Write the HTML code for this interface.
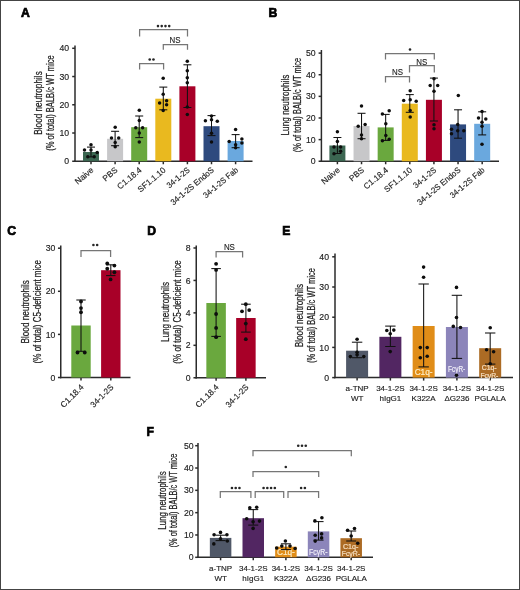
<!DOCTYPE html>
<html><head><meta charset="utf-8"><title>Figure</title>
<style>
html,body{margin:0;padding:0;background:#fff;}
body{width:520px;height:590px;overflow:hidden;}
svg{display:block;font-family:"Liberation Sans", sans-serif;will-change:transform;}
</style></head>
<body>
<svg width="520" height="590" viewBox="0 0 520 590">
<rect x="0" y="0" width="520" height="590" fill="#fff"/>
<text x="21" y="16.8" font-size="12.2" text-anchor="start" fill="#000" font-weight="bold" stroke="#000" stroke-width="0.7">A</text>
<line x1="75" y1="45.5" x2="75" y2="162" stroke="#2b2b2b" stroke-width="1.5" stroke-linecap="butt"/>
<line x1="72.2" y1="161.25" x2="75" y2="161.25" stroke="#2b2b2b" stroke-width="1.5" stroke-linecap="butt"/>
<text x="69.2" y="164.38" font-size="8.7" text-anchor="end" fill="#222222" font-weight="normal" stroke="#222222" stroke-width="0.15">0</text>
<line x1="72.2" y1="133.01" x2="75" y2="133.01" stroke="#2b2b2b" stroke-width="1.5" stroke-linecap="butt"/>
<text x="69.2" y="136.14" font-size="8.7" text-anchor="end" fill="#222222" font-weight="normal" stroke="#222222" stroke-width="0.15">10</text>
<line x1="72.2" y1="104.77" x2="75" y2="104.77" stroke="#2b2b2b" stroke-width="1.5" stroke-linecap="butt"/>
<text x="69.2" y="107.9" font-size="8.7" text-anchor="end" fill="#222222" font-weight="normal" stroke="#222222" stroke-width="0.15">20</text>
<line x1="72.2" y1="76.53" x2="75" y2="76.53" stroke="#2b2b2b" stroke-width="1.5" stroke-linecap="butt"/>
<text x="69.2" y="79.66" font-size="8.7" text-anchor="end" fill="#222222" font-weight="normal" stroke="#222222" stroke-width="0.15">30</text>
<line x1="72.2" y1="48.29" x2="75" y2="48.29" stroke="#2b2b2b" stroke-width="1.5" stroke-linecap="butt"/>
<text x="69.2" y="51.42" font-size="8.7" text-anchor="end" fill="#222222" font-weight="normal" stroke="#222222" stroke-width="0.15">40</text>
<g transform="translate(41.8,103) rotate(-90)"><text x="0" y="0" font-size="10.8" text-anchor="middle" fill="#222222" stroke="#222222" stroke-width="0.24" textLength="63.5" lengthAdjust="spacingAndGlyphs">Blood neutrophils</text></g>
<g transform="translate(53.9,103) rotate(-90)"><text x="0" y="0" font-size="10.8" text-anchor="middle" fill="#222222" stroke="#222222" stroke-width="0.24" textLength="95.5" lengthAdjust="spacingAndGlyphs">(% of total) BALB/c WT mice</text></g>
<line x1="74.25" y1="161.25" x2="252.5" y2="161.25" stroke="#2b2b2b" stroke-width="1.5" stroke-linecap="butt"/>
<line x1="91" y1="161.25" x2="91" y2="164.25" stroke="#2b2b2b" stroke-width="1.5" stroke-linecap="butt"/>
<line x1="115.1" y1="161.25" x2="115.1" y2="164.25" stroke="#2b2b2b" stroke-width="1.5" stroke-linecap="butt"/>
<line x1="139.2" y1="161.25" x2="139.2" y2="164.25" stroke="#2b2b2b" stroke-width="1.5" stroke-linecap="butt"/>
<line x1="163.3" y1="161.25" x2="163.3" y2="164.25" stroke="#2b2b2b" stroke-width="1.5" stroke-linecap="butt"/>
<line x1="187.4" y1="161.25" x2="187.4" y2="164.25" stroke="#2b2b2b" stroke-width="1.5" stroke-linecap="butt"/>
<line x1="211.5" y1="161.25" x2="211.5" y2="164.25" stroke="#2b2b2b" stroke-width="1.5" stroke-linecap="butt"/>
<line x1="235.6" y1="161.25" x2="235.6" y2="164.25" stroke="#2b2b2b" stroke-width="1.5" stroke-linecap="butt"/>
<rect x="83" y="152" width="16" height="9.25" fill="#3b6651"/>
<rect x="107.1" y="138.8" width="16" height="22.45" fill="#c7c7c9"/>
<rect x="131.2" y="127.2" width="16" height="34.05" fill="#6aa83e"/>
<rect x="155.3" y="98.7" width="16" height="62.55" fill="#e9b91f"/>
<rect x="179.4" y="86.3" width="16" height="74.95" fill="#a80028"/>
<rect x="203.5" y="126.2" width="16" height="35.05" fill="#2e4a7e"/>
<rect x="227.6" y="141" width="16" height="20.25" fill="#6aa8de"/>
<line x1="91" y1="147.1" x2="91" y2="156.9" stroke="#111111" stroke-width="1.05" stroke-linecap="butt"/>
<line x1="87" y1="147.1" x2="95" y2="147.1" stroke="#111111" stroke-width="1.05" stroke-linecap="butt"/>
<line x1="87" y1="156.9" x2="95" y2="156.9" stroke="#111111" stroke-width="1.05" stroke-linecap="butt"/>
<circle cx="84.5" cy="150" r="1.75" fill="#0d0d0d"/>
<circle cx="91" cy="144.8" r="1.75" fill="#0d0d0d"/>
<circle cx="91" cy="149.9" r="1.75" fill="#0d0d0d"/>
<circle cx="97.2" cy="152.5" r="1.75" fill="#0d0d0d"/>
<circle cx="87.8" cy="156.8" r="1.75" fill="#0d0d0d"/>
<circle cx="94.2" cy="156.8" r="1.75" fill="#0d0d0d"/>
<line x1="115.1" y1="131.3" x2="115.1" y2="145.7" stroke="#111111" stroke-width="1.05" stroke-linecap="butt"/>
<line x1="111.1" y1="131.3" x2="119.1" y2="131.3" stroke="#111111" stroke-width="1.05" stroke-linecap="butt"/>
<line x1="111.1" y1="145.7" x2="119.1" y2="145.7" stroke="#111111" stroke-width="1.05" stroke-linecap="butt"/>
<circle cx="115.2" cy="127.2" r="1.75" fill="#0d0d0d"/>
<circle cx="111.5" cy="138" r="1.75" fill="#0d0d0d"/>
<circle cx="118.7" cy="138" r="1.75" fill="#0d0d0d"/>
<circle cx="115.2" cy="142.4" r="1.75" fill="#0d0d0d"/>
<circle cx="115.2" cy="146.7" r="1.75" fill="#0d0d0d"/>
<line x1="139.2" y1="116" x2="139.2" y2="137.6" stroke="#111111" stroke-width="1.05" stroke-linecap="butt"/>
<line x1="135.2" y1="116" x2="143.2" y2="116" stroke="#111111" stroke-width="1.05" stroke-linecap="butt"/>
<line x1="135.2" y1="137.6" x2="143.2" y2="137.6" stroke="#111111" stroke-width="1.05" stroke-linecap="butt"/>
<circle cx="139.3" cy="110.2" r="1.75" fill="#0d0d0d"/>
<circle cx="139.3" cy="120.6" r="1.75" fill="#0d0d0d"/>
<circle cx="135.8" cy="127.8" r="1.75" fill="#0d0d0d"/>
<circle cx="142.6" cy="127.8" r="1.75" fill="#0d0d0d"/>
<circle cx="139.3" cy="133" r="1.75" fill="#0d0d0d"/>
<circle cx="139.3" cy="142" r="1.75" fill="#0d0d0d"/>
<line x1="163.3" y1="87.1" x2="163.3" y2="109.8" stroke="#111111" stroke-width="1.05" stroke-linecap="butt"/>
<line x1="159.3" y1="87.1" x2="167.3" y2="87.1" stroke="#111111" stroke-width="1.05" stroke-linecap="butt"/>
<line x1="159.3" y1="109.8" x2="167.3" y2="109.8" stroke="#111111" stroke-width="1.05" stroke-linecap="butt"/>
<circle cx="163.2" cy="78.3" r="1.75" fill="#0d0d0d"/>
<circle cx="163.2" cy="94.2" r="1.75" fill="#0d0d0d"/>
<circle cx="159.6" cy="103" r="1.75" fill="#0d0d0d"/>
<circle cx="166.6" cy="100.7" r="1.75" fill="#0d0d0d"/>
<circle cx="166.6" cy="104.7" r="1.75" fill="#0d0d0d"/>
<circle cx="163.2" cy="110.5" r="1.75" fill="#0d0d0d"/>
<line x1="187.4" y1="64.8" x2="187.4" y2="107.5" stroke="#111111" stroke-width="1.05" stroke-linecap="butt"/>
<line x1="183.4" y1="64.8" x2="191.4" y2="64.8" stroke="#111111" stroke-width="1.05" stroke-linecap="butt"/>
<line x1="183.4" y1="107.5" x2="191.4" y2="107.5" stroke="#111111" stroke-width="1.05" stroke-linecap="butt"/>
<circle cx="187.3" cy="61.2" r="1.75" fill="#0d0d0d"/>
<circle cx="187.3" cy="70.8" r="1.75" fill="#0d0d0d"/>
<circle cx="187.3" cy="77.7" r="1.75" fill="#0d0d0d"/>
<circle cx="187.3" cy="82.7" r="1.75" fill="#0d0d0d"/>
<circle cx="187.3" cy="106.9" r="1.75" fill="#0d0d0d"/>
<circle cx="187.3" cy="114.5" r="1.75" fill="#0d0d0d"/>
<line x1="211.5" y1="115.6" x2="211.5" y2="135.6" stroke="#111111" stroke-width="1.05" stroke-linecap="butt"/>
<line x1="207.5" y1="115.6" x2="215.5" y2="115.6" stroke="#111111" stroke-width="1.05" stroke-linecap="butt"/>
<line x1="207.5" y1="135.6" x2="215.5" y2="135.6" stroke="#111111" stroke-width="1.05" stroke-linecap="butt"/>
<circle cx="211.5" cy="116" r="1.75" fill="#0d0d0d"/>
<circle cx="205.4" cy="120.8" r="1.75" fill="#0d0d0d"/>
<circle cx="211.5" cy="119.8" r="1.75" fill="#0d0d0d"/>
<circle cx="217.3" cy="121.3" r="1.75" fill="#0d0d0d"/>
<circle cx="211.5" cy="133.3" r="1.75" fill="#0d0d0d"/>
<circle cx="211.5" cy="141.9" r="1.75" fill="#0d0d0d"/>
<line x1="235.6" y1="134.6" x2="235.6" y2="147.7" stroke="#111111" stroke-width="1.05" stroke-linecap="butt"/>
<line x1="231.6" y1="134.6" x2="239.6" y2="134.6" stroke="#111111" stroke-width="1.05" stroke-linecap="butt"/>
<line x1="231.6" y1="147.7" x2="239.6" y2="147.7" stroke="#111111" stroke-width="1.05" stroke-linecap="butt"/>
<circle cx="235.6" cy="129.4" r="1.75" fill="#0d0d0d"/>
<circle cx="229.2" cy="141.5" r="1.75" fill="#0d0d0d"/>
<circle cx="241.9" cy="139" r="1.75" fill="#0d0d0d"/>
<circle cx="241.9" cy="142.9" r="1.75" fill="#0d0d0d"/>
<circle cx="235.6" cy="144.8" r="1.75" fill="#0d0d0d"/>
<circle cx="235.6" cy="147.7" r="1.75" fill="#0d0d0d"/>
<g transform="translate(94.1,171) rotate(-40)"><text x="0" y="0" font-size="8.3" text-anchor="end" fill="#222222" stroke="#222222" stroke-width="0.15">Naive</text></g>
<g transform="translate(118.2,171) rotate(-40)"><text x="0" y="0" font-size="8.3" text-anchor="end" fill="#222222" stroke="#222222" stroke-width="0.15">PBS</text></g>
<g transform="translate(142.3,171) rotate(-40)"><text x="0" y="0" font-size="8.3" text-anchor="end" fill="#222222" stroke="#222222" stroke-width="0.15">C1.18.4</text></g>
<g transform="translate(166.4,171) rotate(-40)"><text x="0" y="0" font-size="8.3" text-anchor="end" fill="#222222" stroke="#222222" stroke-width="0.15">SF1.1.10</text></g>
<g transform="translate(190.5,171) rotate(-40)"><text x="0" y="0" font-size="8.3" text-anchor="end" fill="#222222" stroke="#222222" stroke-width="0.15" textLength="27.3" lengthAdjust="spacingAndGlyphs">34-1-2S</text></g>
<g transform="translate(214.6,171) rotate(-40)"><text x="0" y="0" font-size="8.3" text-anchor="end" fill="#222222" stroke="#222222" stroke-width="0.15" textLength="53.8" lengthAdjust="spacingAndGlyphs">34-1-2S EndoS</text></g>
<g transform="translate(238.7,171) rotate(-40)"><text x="0" y="0" font-size="8.3" text-anchor="end" fill="#222222" stroke="#222222" stroke-width="0.15" textLength="42.6" lengthAdjust="spacingAndGlyphs">34-1-2S Fab</text></g>
<path d="M139.6 36.5V29.5H187.5V36.5" fill="none" stroke="#767676" stroke-width="1.25"/>
<circle cx="157.97" cy="26.1" r="1.3" fill="#262626"/>
<circle cx="161.72" cy="26.1" r="1.3" fill="#262626"/>
<circle cx="165.47" cy="26.1" r="1.3" fill="#262626"/>
<circle cx="169.22" cy="26.1" r="1.3" fill="#262626"/>
<path d="M163.3 49.7V44.5H187.5V49.7" fill="none" stroke="#767676" stroke-width="1.25"/>
<text x="175.1" y="42.8" font-size="8.6" text-anchor="middle" fill="#222" font-weight="normal" textLength="11" lengthAdjust="spacingAndGlyphs" stroke="#222" stroke-width="0.12">NS</text>
<path d="M139.6 69.6V63.5H163.6V69.6" fill="none" stroke="#767676" stroke-width="1.25"/>
<circle cx="149.72" cy="59.5" r="1.3" fill="#262626"/>
<circle cx="153.47" cy="59.5" r="1.3" fill="#262626"/>
<text x="268.6" y="16.8" font-size="12.2" text-anchor="start" fill="#000" font-weight="bold" stroke="#000" stroke-width="0.7">B</text>
<line x1="321.4" y1="50" x2="321.4" y2="162" stroke="#2b2b2b" stroke-width="1.5" stroke-linecap="butt"/>
<line x1="318.6" y1="161.25" x2="321.4" y2="161.25" stroke="#2b2b2b" stroke-width="1.5" stroke-linecap="butt"/>
<text x="315.6" y="164.38" font-size="8.7" text-anchor="end" fill="#222222" font-weight="normal" stroke="#222222" stroke-width="0.15">0</text>
<line x1="318.6" y1="139.62" x2="321.4" y2="139.62" stroke="#2b2b2b" stroke-width="1.5" stroke-linecap="butt"/>
<text x="315.6" y="142.75" font-size="8.7" text-anchor="end" fill="#222222" font-weight="normal" stroke="#222222" stroke-width="0.15">10</text>
<line x1="318.6" y1="117.99" x2="321.4" y2="117.99" stroke="#2b2b2b" stroke-width="1.5" stroke-linecap="butt"/>
<text x="315.6" y="121.12" font-size="8.7" text-anchor="end" fill="#222222" font-weight="normal" stroke="#222222" stroke-width="0.15">20</text>
<line x1="318.6" y1="96.36" x2="321.4" y2="96.36" stroke="#2b2b2b" stroke-width="1.5" stroke-linecap="butt"/>
<text x="315.6" y="99.49" font-size="8.7" text-anchor="end" fill="#222222" font-weight="normal" stroke="#222222" stroke-width="0.15">30</text>
<line x1="318.6" y1="74.73" x2="321.4" y2="74.73" stroke="#2b2b2b" stroke-width="1.5" stroke-linecap="butt"/>
<text x="315.6" y="77.86" font-size="8.7" text-anchor="end" fill="#222222" font-weight="normal" stroke="#222222" stroke-width="0.15">40</text>
<line x1="318.6" y1="53.1" x2="321.4" y2="53.1" stroke="#2b2b2b" stroke-width="1.5" stroke-linecap="butt"/>
<text x="315.6" y="56.23" font-size="8.7" text-anchor="end" fill="#222222" font-weight="normal" stroke="#222222" stroke-width="0.15">50</text>
<g transform="translate(288.6,105) rotate(-90)"><text x="0" y="0" font-size="10.8" text-anchor="middle" fill="#222222" stroke="#222222" stroke-width="0.24" textLength="61" lengthAdjust="spacingAndGlyphs">Lung neutrophils</text></g>
<g transform="translate(300.6,105) rotate(-90)"><text x="0" y="0" font-size="10.8" text-anchor="middle" fill="#222222" stroke="#222222" stroke-width="0.24" textLength="94.5" lengthAdjust="spacingAndGlyphs">(% of total) BALB/c WT mice</text></g>
<line x1="320.65" y1="161.25" x2="499" y2="161.25" stroke="#2b2b2b" stroke-width="1.5" stroke-linecap="butt"/>
<line x1="337.4" y1="161.25" x2="337.4" y2="164.25" stroke="#2b2b2b" stroke-width="1.5" stroke-linecap="butt"/>
<line x1="361.53" y1="161.25" x2="361.53" y2="164.25" stroke="#2b2b2b" stroke-width="1.5" stroke-linecap="butt"/>
<line x1="385.66" y1="161.25" x2="385.66" y2="164.25" stroke="#2b2b2b" stroke-width="1.5" stroke-linecap="butt"/>
<line x1="409.79" y1="161.25" x2="409.79" y2="164.25" stroke="#2b2b2b" stroke-width="1.5" stroke-linecap="butt"/>
<line x1="433.92" y1="161.25" x2="433.92" y2="164.25" stroke="#2b2b2b" stroke-width="1.5" stroke-linecap="butt"/>
<line x1="458.05" y1="161.25" x2="458.05" y2="164.25" stroke="#2b2b2b" stroke-width="1.5" stroke-linecap="butt"/>
<line x1="482.18" y1="161.25" x2="482.18" y2="164.25" stroke="#2b2b2b" stroke-width="1.5" stroke-linecap="butt"/>
<rect x="329.4" y="145.5" width="16" height="15.75" fill="#3b6651"/>
<rect x="353.53" y="126" width="16" height="35.25" fill="#c7c7c9"/>
<rect x="377.66" y="127.4" width="16" height="33.85" fill="#6aa83e"/>
<rect x="401.79" y="103.7" width="16" height="57.55" fill="#e9b91f"/>
<rect x="425.92" y="99.8" width="16" height="61.45" fill="#a80028"/>
<rect x="450.05" y="124.4" width="16" height="36.85" fill="#2e4a7e"/>
<rect x="474.18" y="123.8" width="16" height="37.45" fill="#6aa8de"/>
<line x1="337.4" y1="137.5" x2="337.4" y2="153.5" stroke="#111111" stroke-width="1.05" stroke-linecap="butt"/>
<line x1="333.4" y1="137.5" x2="341.4" y2="137.5" stroke="#111111" stroke-width="1.05" stroke-linecap="butt"/>
<line x1="333.4" y1="153.5" x2="341.4" y2="153.5" stroke="#111111" stroke-width="1.05" stroke-linecap="butt"/>
<circle cx="337.4" cy="131.7" r="1.75" fill="#0d0d0d"/>
<circle cx="337.4" cy="141.6" r="1.75" fill="#0d0d0d"/>
<circle cx="334" cy="146.9" r="1.75" fill="#0d0d0d"/>
<circle cx="340.6" cy="146.9" r="1.75" fill="#0d0d0d"/>
<circle cx="340.6" cy="151.2" r="1.75" fill="#0d0d0d"/>
<circle cx="334" cy="153.7" r="1.75" fill="#0d0d0d"/>
<line x1="361.53" y1="113.3" x2="361.53" y2="138.7" stroke="#111111" stroke-width="1.05" stroke-linecap="butt"/>
<line x1="357.53" y1="113.3" x2="365.53" y2="113.3" stroke="#111111" stroke-width="1.05" stroke-linecap="butt"/>
<line x1="357.53" y1="138.7" x2="365.53" y2="138.7" stroke="#111111" stroke-width="1.05" stroke-linecap="butt"/>
<circle cx="361.5" cy="106" r="1.75" fill="#0d0d0d"/>
<circle cx="358.2" cy="126.3" r="1.75" fill="#0d0d0d"/>
<circle cx="365.1" cy="124.5" r="1.75" fill="#0d0d0d"/>
<circle cx="361.5" cy="134.9" r="1.75" fill="#0d0d0d"/>
<circle cx="361.5" cy="138.7" r="1.75" fill="#0d0d0d"/>
<line x1="385.66" y1="114.4" x2="385.66" y2="140.4" stroke="#111111" stroke-width="1.05" stroke-linecap="butt"/>
<line x1="381.66" y1="114.4" x2="389.66" y2="114.4" stroke="#111111" stroke-width="1.05" stroke-linecap="butt"/>
<line x1="381.66" y1="140.4" x2="389.66" y2="140.4" stroke="#111111" stroke-width="1.05" stroke-linecap="butt"/>
<circle cx="382.4" cy="114.1" r="1.75" fill="#0d0d0d"/>
<circle cx="389.2" cy="110.8" r="1.75" fill="#0d0d0d"/>
<circle cx="385.8" cy="123.8" r="1.75" fill="#0d0d0d"/>
<circle cx="385.8" cy="135.4" r="1.75" fill="#0d0d0d"/>
<circle cx="382.4" cy="140.7" r="1.75" fill="#0d0d0d"/>
<circle cx="389.2" cy="139.2" r="1.75" fill="#0d0d0d"/>
<line x1="409.79" y1="94.6" x2="409.79" y2="112.3" stroke="#111111" stroke-width="1.05" stroke-linecap="butt"/>
<line x1="405.79" y1="94.6" x2="413.79" y2="94.6" stroke="#111111" stroke-width="1.05" stroke-linecap="butt"/>
<line x1="405.79" y1="112.3" x2="413.79" y2="112.3" stroke="#111111" stroke-width="1.05" stroke-linecap="butt"/>
<circle cx="410.2" cy="90.8" r="1.75" fill="#0d0d0d"/>
<circle cx="403.7" cy="100.4" r="1.75" fill="#0d0d0d"/>
<circle cx="410.2" cy="99.8" r="1.75" fill="#0d0d0d"/>
<circle cx="416.2" cy="101.3" r="1.75" fill="#0d0d0d"/>
<circle cx="410.2" cy="110.4" r="1.75" fill="#0d0d0d"/>
<circle cx="410.2" cy="117.1" r="1.75" fill="#0d0d0d"/>
<line x1="433.92" y1="78.1" x2="433.92" y2="121" stroke="#111111" stroke-width="1.05" stroke-linecap="butt"/>
<line x1="429.92" y1="78.1" x2="437.92" y2="78.1" stroke="#111111" stroke-width="1.05" stroke-linecap="butt"/>
<line x1="429.92" y1="121" x2="437.92" y2="121" stroke="#111111" stroke-width="1.05" stroke-linecap="butt"/>
<circle cx="434" cy="78.7" r="1.75" fill="#0d0d0d"/>
<circle cx="430.2" cy="85.4" r="1.75" fill="#0d0d0d"/>
<circle cx="437.7" cy="85.4" r="1.75" fill="#0d0d0d"/>
<circle cx="434" cy="91.2" r="1.75" fill="#0d0d0d"/>
<circle cx="434" cy="124.8" r="1.75" fill="#0d0d0d"/>
<circle cx="434" cy="128.7" r="1.75" fill="#0d0d0d"/>
<line x1="458.05" y1="109.8" x2="458.05" y2="138.2" stroke="#111111" stroke-width="1.05" stroke-linecap="butt"/>
<line x1="454.05" y1="109.8" x2="462.05" y2="109.8" stroke="#111111" stroke-width="1.05" stroke-linecap="butt"/>
<line x1="454.05" y1="138.2" x2="462.05" y2="138.2" stroke="#111111" stroke-width="1.05" stroke-linecap="butt"/>
<circle cx="458.3" cy="95.4" r="1.75" fill="#0d0d0d"/>
<circle cx="457.7" cy="124.6" r="1.75" fill="#0d0d0d"/>
<circle cx="451.5" cy="129.2" r="1.75" fill="#0d0d0d"/>
<circle cx="463.8" cy="130.8" r="1.75" fill="#0d0d0d"/>
<circle cx="457.7" cy="130.8" r="1.75" fill="#0d0d0d"/>
<circle cx="451.5" cy="133.8" r="1.75" fill="#0d0d0d"/>
<line x1="482.18" y1="111.8" x2="482.18" y2="134.9" stroke="#111111" stroke-width="1.05" stroke-linecap="butt"/>
<line x1="478.18" y1="111.8" x2="486.18" y2="111.8" stroke="#111111" stroke-width="1.05" stroke-linecap="butt"/>
<line x1="478.18" y1="134.9" x2="486.18" y2="134.9" stroke="#111111" stroke-width="1.05" stroke-linecap="butt"/>
<circle cx="482" cy="111.6" r="1.75" fill="#0d0d0d"/>
<circle cx="478.5" cy="118" r="1.75" fill="#0d0d0d"/>
<circle cx="485.8" cy="118.9" r="1.75" fill="#0d0d0d"/>
<circle cx="482" cy="122.3" r="1.75" fill="#0d0d0d"/>
<circle cx="482" cy="126.2" r="1.75" fill="#0d0d0d"/>
<circle cx="482" cy="144.2" r="1.75" fill="#0d0d0d"/>
<g transform="translate(340.5,171) rotate(-40)"><text x="0" y="0" font-size="8.3" text-anchor="end" fill="#222222" stroke="#222222" stroke-width="0.15">Naive</text></g>
<g transform="translate(364.63,171) rotate(-40)"><text x="0" y="0" font-size="8.3" text-anchor="end" fill="#222222" stroke="#222222" stroke-width="0.15">PBS</text></g>
<g transform="translate(388.76,171) rotate(-40)"><text x="0" y="0" font-size="8.3" text-anchor="end" fill="#222222" stroke="#222222" stroke-width="0.15">C1.18.4</text></g>
<g transform="translate(412.89,171) rotate(-40)"><text x="0" y="0" font-size="8.3" text-anchor="end" fill="#222222" stroke="#222222" stroke-width="0.15">SF1.1.10</text></g>
<g transform="translate(437.02,171) rotate(-40)"><text x="0" y="0" font-size="8.3" text-anchor="end" fill="#222222" stroke="#222222" stroke-width="0.15" textLength="27.3" lengthAdjust="spacingAndGlyphs">34-1-2S</text></g>
<g transform="translate(461.15,171) rotate(-40)"><text x="0" y="0" font-size="8.3" text-anchor="end" fill="#222222" stroke="#222222" stroke-width="0.15" textLength="53.8" lengthAdjust="spacingAndGlyphs">34-1-2S EndoS</text></g>
<g transform="translate(485.28,171) rotate(-40)"><text x="0" y="0" font-size="8.3" text-anchor="end" fill="#222222" stroke="#222222" stroke-width="0.15" textLength="42.6" lengthAdjust="spacingAndGlyphs">34-1-2S Fab</text></g>
<path d="M385.5 59.5V53.5H434.3V59.5" fill="none" stroke="#767676" stroke-width="1.25"/>
<circle cx="410" cy="49.5" r="1.3" fill="#262626"/>
<path d="M409.5 72.5V65.5H434.3V72.5" fill="none" stroke="#767676" stroke-width="1.25"/>
<text x="421.8" y="65" font-size="8.6" text-anchor="middle" fill="#222" font-weight="normal" textLength="11" lengthAdjust="spacingAndGlyphs" stroke="#222" stroke-width="0.12">NS</text>
<path d="M385.5 82.5V76.5H409.5V82.5" fill="none" stroke="#767676" stroke-width="1.25"/>
<text x="397.5" y="74.5" font-size="8.6" text-anchor="middle" fill="#222" font-weight="normal" textLength="11" lengthAdjust="spacingAndGlyphs" stroke="#222" stroke-width="0.12">NS</text>
<text x="7.2" y="235.4" font-size="12.2" text-anchor="start" fill="#000" font-weight="bold" stroke="#000" stroke-width="0.7">C</text>
<line x1="60.75" y1="245.5" x2="60.75" y2="378.25" stroke="#2b2b2b" stroke-width="1.5" stroke-linecap="butt"/>
<line x1="57.95" y1="377.5" x2="60.75" y2="377.5" stroke="#2b2b2b" stroke-width="1.5" stroke-linecap="butt"/>
<text x="55.4" y="380.63" font-size="8.7" text-anchor="end" fill="#222222" font-weight="normal" stroke="#222222" stroke-width="0.15">0</text>
<line x1="57.95" y1="334.4" x2="60.75" y2="334.4" stroke="#2b2b2b" stroke-width="1.5" stroke-linecap="butt"/>
<text x="55.4" y="337.53" font-size="8.7" text-anchor="end" fill="#222222" font-weight="normal" stroke="#222222" stroke-width="0.15">10</text>
<line x1="57.95" y1="291.3" x2="60.75" y2="291.3" stroke="#2b2b2b" stroke-width="1.5" stroke-linecap="butt"/>
<text x="55.4" y="294.43" font-size="8.7" text-anchor="end" fill="#222222" font-weight="normal" stroke="#222222" stroke-width="0.15">20</text>
<line x1="57.95" y1="248.2" x2="60.75" y2="248.2" stroke="#2b2b2b" stroke-width="1.5" stroke-linecap="butt"/>
<text x="55.4" y="251.33" font-size="8.7" text-anchor="end" fill="#222222" font-weight="normal" stroke="#222222" stroke-width="0.15">30</text>
<g transform="translate(28.6,311.8) rotate(-90)"><text x="0" y="0" font-size="10.8" text-anchor="middle" fill="#222222" stroke="#222222" stroke-width="0.24" textLength="63.4" lengthAdjust="spacingAndGlyphs">Blood neutrophils</text></g>
<g transform="translate(40.8,311.8) rotate(-90)"><text x="0" y="0" font-size="10.8" text-anchor="middle" fill="#222222" stroke="#222222" stroke-width="0.24" textLength="103.3" lengthAdjust="spacingAndGlyphs">(% of total) C5-deficient mice</text></g>
<line x1="60" y1="377.5" x2="130.5" y2="377.5" stroke="#2b2b2b" stroke-width="1.5" stroke-linecap="butt"/>
<line x1="81" y1="377.5" x2="81" y2="380.5" stroke="#2b2b2b" stroke-width="1.5" stroke-linecap="butt"/>
<line x1="110.8" y1="377.5" x2="110.8" y2="380.5" stroke="#2b2b2b" stroke-width="1.5" stroke-linecap="butt"/>
<rect x="71.3" y="325.5" width="19.4" height="52" fill="#6aa83e"/>
<rect x="101.1" y="270.2" width="19.4" height="107.3" fill="#a80028"/>
<line x1="81" y1="300" x2="81" y2="351.3" stroke="#111111" stroke-width="1.05" stroke-linecap="butt"/>
<line x1="76.3" y1="300" x2="85.7" y2="300" stroke="#111111" stroke-width="1.05" stroke-linecap="butt"/>
<line x1="76.3" y1="351.3" x2="85.7" y2="351.3" stroke="#111111" stroke-width="1.05" stroke-linecap="butt"/>
<line x1="110.8" y1="264.8" x2="110.8" y2="275.6" stroke="#111111" stroke-width="1.05" stroke-linecap="butt"/>
<line x1="106.1" y1="264.8" x2="115.5" y2="264.8" stroke="#111111" stroke-width="1.05" stroke-linecap="butt"/>
<line x1="106.1" y1="275.6" x2="115.5" y2="275.6" stroke="#111111" stroke-width="1.05" stroke-linecap="butt"/>
<circle cx="81" cy="301.5" r="1.9" fill="#0d0d0d"/>
<circle cx="81" cy="308.1" r="1.9" fill="#0d0d0d"/>
<circle cx="81" cy="312.25" r="1.9" fill="#0d0d0d"/>
<circle cx="77.5" cy="352.5" r="1.9" fill="#0d0d0d"/>
<circle cx="84.75" cy="352.5" r="1.9" fill="#0d0d0d"/>
<circle cx="107.25" cy="263.5" r="1.9" fill="#0d0d0d"/>
<circle cx="114.4" cy="265.6" r="1.9" fill="#0d0d0d"/>
<circle cx="107.25" cy="268.75" r="1.9" fill="#0d0d0d"/>
<circle cx="114.4" cy="272.25" r="1.9" fill="#0d0d0d"/>
<circle cx="110.6" cy="279.4" r="1.9" fill="#0d0d0d"/>
<g transform="translate(84.2,387.8) rotate(-45)"><text x="0" y="0" font-size="8.3" text-anchor="end" fill="#222222" stroke="#222222" stroke-width="0.15">C1.18.4</text></g>
<g transform="translate(114,387.8) rotate(-45)"><text x="0" y="0" font-size="8.3" text-anchor="end" fill="#222222" stroke="#222222" stroke-width="0.15" textLength="28.6" lengthAdjust="spacingAndGlyphs">34-1-2S</text></g>
<path d="M81 257V250.5H110.6V257" fill="none" stroke="#767676" stroke-width="1.25"/>
<circle cx="93.42" cy="245" r="1.3" fill="#262626"/>
<circle cx="97.17" cy="245" r="1.3" fill="#262626"/>
<text x="147.2" y="234.8" font-size="12.2" text-anchor="start" fill="#000" font-weight="bold" stroke="#000" stroke-width="0.7">D</text>
<line x1="196.25" y1="245.5" x2="196.25" y2="378.5" stroke="#2b2b2b" stroke-width="1.5" stroke-linecap="butt"/>
<line x1="193.45" y1="377.75" x2="196.25" y2="377.75" stroke="#2b2b2b" stroke-width="1.5" stroke-linecap="butt"/>
<text x="190.6" y="380.88" font-size="8.7" text-anchor="end" fill="#222222" font-weight="normal" stroke="#222222" stroke-width="0.15">0</text>
<line x1="193.45" y1="345.31" x2="196.25" y2="345.31" stroke="#2b2b2b" stroke-width="1.5" stroke-linecap="butt"/>
<text x="190.6" y="348.44" font-size="8.7" text-anchor="end" fill="#222222" font-weight="normal" stroke="#222222" stroke-width="0.15">2</text>
<line x1="193.45" y1="312.87" x2="196.25" y2="312.87" stroke="#2b2b2b" stroke-width="1.5" stroke-linecap="butt"/>
<text x="190.6" y="316" font-size="8.7" text-anchor="end" fill="#222222" font-weight="normal" stroke="#222222" stroke-width="0.15">4</text>
<line x1="193.45" y1="280.43" x2="196.25" y2="280.43" stroke="#2b2b2b" stroke-width="1.5" stroke-linecap="butt"/>
<text x="190.6" y="283.56" font-size="8.7" text-anchor="end" fill="#222222" font-weight="normal" stroke="#222222" stroke-width="0.15">6</text>
<line x1="193.45" y1="247.99" x2="196.25" y2="247.99" stroke="#2b2b2b" stroke-width="1.5" stroke-linecap="butt"/>
<text x="190.6" y="251.12" font-size="8.7" text-anchor="end" fill="#222222" font-weight="normal" stroke="#222222" stroke-width="0.15">8</text>
<g transform="translate(168.6,312) rotate(-90)"><text x="0" y="0" font-size="10.8" text-anchor="middle" fill="#222222" stroke="#222222" stroke-width="0.24" textLength="60" lengthAdjust="spacingAndGlyphs">Lung neutrophils</text></g>
<g transform="translate(180.8,312) rotate(-90)"><text x="0" y="0" font-size="10.8" text-anchor="middle" fill="#222222" stroke="#222222" stroke-width="0.24" textLength="103.3" lengthAdjust="spacingAndGlyphs">(% of total) C5-deficient mice</text></g>
<line x1="195.5" y1="377.75" x2="266" y2="377.75" stroke="#2b2b2b" stroke-width="1.5" stroke-linecap="butt"/>
<line x1="216.1" y1="377.75" x2="216.1" y2="380.75" stroke="#2b2b2b" stroke-width="1.5" stroke-linecap="butt"/>
<line x1="245.9" y1="377.75" x2="245.9" y2="380.75" stroke="#2b2b2b" stroke-width="1.5" stroke-linecap="butt"/>
<rect x="206.35" y="303" width="19.5" height="74.75" fill="#6aa83e"/>
<rect x="236.15" y="318" width="19.5" height="59.75" fill="#a80028"/>
<line x1="216.1" y1="268.6" x2="216.1" y2="336.4" stroke="#111111" stroke-width="1.05" stroke-linecap="butt"/>
<line x1="211.3" y1="268.6" x2="220.9" y2="268.6" stroke="#111111" stroke-width="1.05" stroke-linecap="butt"/>
<line x1="211.3" y1="336.4" x2="220.9" y2="336.4" stroke="#111111" stroke-width="1.05" stroke-linecap="butt"/>
<line x1="245.9" y1="304.2" x2="245.9" y2="332.1" stroke="#111111" stroke-width="1.05" stroke-linecap="butt"/>
<line x1="241.1" y1="304.2" x2="250.7" y2="304.2" stroke="#111111" stroke-width="1.05" stroke-linecap="butt"/>
<line x1="241.1" y1="332.1" x2="250.7" y2="332.1" stroke="#111111" stroke-width="1.05" stroke-linecap="butt"/>
<circle cx="216.1" cy="263.8" r="1.9" fill="#0d0d0d"/>
<circle cx="216.1" cy="269.9" r="1.9" fill="#0d0d0d"/>
<circle cx="216.1" cy="314" r="1.9" fill="#0d0d0d"/>
<circle cx="216.1" cy="327.9" r="1.9" fill="#0d0d0d"/>
<circle cx="216.1" cy="337.2" r="1.9" fill="#0d0d0d"/>
<circle cx="245.8" cy="304.2" r="1.9" fill="#0d0d0d"/>
<circle cx="242" cy="311.3" r="1.9" fill="#0d0d0d"/>
<circle cx="249.2" cy="310.1" r="1.9" fill="#0d0d0d"/>
<circle cx="245.8" cy="323.6" r="1.9" fill="#0d0d0d"/>
<circle cx="245.8" cy="339.2" r="1.9" fill="#0d0d0d"/>
<g transform="translate(219.3,387.8) rotate(-45)"><text x="0" y="0" font-size="8.3" text-anchor="end" fill="#222222" stroke="#222222" stroke-width="0.15">C1.18.4</text></g>
<g transform="translate(249.1,387.8) rotate(-45)"><text x="0" y="0" font-size="8.3" text-anchor="end" fill="#222222" stroke="#222222" stroke-width="0.15" textLength="28.6" lengthAdjust="spacingAndGlyphs">34-1-2S</text></g>
<path d="M216.1 257.6V251.5H242.6V257.6" fill="none" stroke="#767676" stroke-width="1.25"/>
<text x="229.4" y="250.2" font-size="8.6" text-anchor="middle" fill="#222" font-weight="normal" textLength="11" lengthAdjust="spacingAndGlyphs" stroke="#222" stroke-width="0.12">NS</text>
<text x="282.2" y="234.8" font-size="12.2" text-anchor="start" fill="#000" font-weight="bold" stroke="#000" stroke-width="0.7">E</text>
<line x1="335" y1="253.5" x2="335" y2="378.35" stroke="#2b2b2b" stroke-width="1.5" stroke-linecap="butt"/>
<line x1="332.2" y1="377.6" x2="335" y2="377.6" stroke="#2b2b2b" stroke-width="1.5" stroke-linecap="butt"/>
<text x="329" y="380.73" font-size="8.7" text-anchor="end" fill="#222222" font-weight="normal" stroke="#222222" stroke-width="0.15">0</text>
<line x1="332.2" y1="347.4" x2="335" y2="347.4" stroke="#2b2b2b" stroke-width="1.5" stroke-linecap="butt"/>
<text x="329" y="350.53" font-size="8.7" text-anchor="end" fill="#222222" font-weight="normal" stroke="#222222" stroke-width="0.15">10</text>
<line x1="332.2" y1="317.2" x2="335" y2="317.2" stroke="#2b2b2b" stroke-width="1.5" stroke-linecap="butt"/>
<text x="329" y="320.33" font-size="8.7" text-anchor="end" fill="#222222" font-weight="normal" stroke="#222222" stroke-width="0.15">20</text>
<line x1="332.2" y1="287" x2="335" y2="287" stroke="#2b2b2b" stroke-width="1.5" stroke-linecap="butt"/>
<text x="329" y="290.13" font-size="8.7" text-anchor="end" fill="#222222" font-weight="normal" stroke="#222222" stroke-width="0.15">30</text>
<line x1="332.2" y1="256.8" x2="335" y2="256.8" stroke="#2b2b2b" stroke-width="1.5" stroke-linecap="butt"/>
<text x="329" y="259.93" font-size="8.7" text-anchor="end" fill="#222222" font-weight="normal" stroke="#222222" stroke-width="0.15">40</text>
<g transform="translate(303.4,315.6) rotate(-90)"><text x="0" y="0" font-size="10.8" text-anchor="middle" fill="#222222" stroke="#222222" stroke-width="0.24" textLength="63.4" lengthAdjust="spacingAndGlyphs">Blood neutrophils</text></g>
<g transform="translate(315.3,315.6) rotate(-90)"><text x="0" y="0" font-size="10.8" text-anchor="middle" fill="#222222" stroke="#222222" stroke-width="0.24" textLength="95" lengthAdjust="spacingAndGlyphs">(% of total) BALB/c WT mice</text></g>
<line x1="334.25" y1="377.6" x2="513" y2="377.6" stroke="#2b2b2b" stroke-width="1.5" stroke-linecap="butt"/>
<line x1="357.1" y1="377.6" x2="357.1" y2="380.6" stroke="#2b2b2b" stroke-width="1.5" stroke-linecap="butt"/>
<line x1="390.37" y1="377.6" x2="390.37" y2="380.6" stroke="#2b2b2b" stroke-width="1.5" stroke-linecap="butt"/>
<line x1="423.64" y1="377.6" x2="423.64" y2="380.6" stroke="#2b2b2b" stroke-width="1.5" stroke-linecap="butt"/>
<line x1="456.91" y1="377.6" x2="456.91" y2="380.6" stroke="#2b2b2b" stroke-width="1.5" stroke-linecap="butt"/>
<line x1="490.18" y1="377.6" x2="490.18" y2="380.6" stroke="#2b2b2b" stroke-width="1.5" stroke-linecap="butt"/>
<rect x="346.1" y="350.7" width="22" height="26.9" fill="#505868"/>
<rect x="379.37" y="336.8" width="22" height="40.8" fill="#522662"/>
<rect x="412.64" y="326" width="22" height="51.6" fill="#e08d18"/>
<rect x="445.91" y="327" width="22" height="50.6" fill="#8c85ba"/>
<rect x="479.18" y="348.2" width="22" height="29.4" fill="#ac6b24"/>
<text x="423.64" y="374.8" font-size="8.3" text-anchor="middle" fill="#fcecc4" font-weight="normal" textLength="18" lengthAdjust="spacingAndGlyphs" stroke="#fcecc4" stroke-width="0.2">C1q-</text>
<text x="456.61" y="372" font-size="8.2" text-anchor="middle" fill="#efedf8" font-weight="normal" textLength="17.2" lengthAdjust="spacingAndGlyphs" stroke="#efedf8" stroke-width="0.2">Fc&#947;R-</text>
<text x="489.18" y="369.6" font-size="7.8" text-anchor="middle" fill="#f7e0c2" font-weight="normal" textLength="15" lengthAdjust="spacingAndGlyphs" stroke="#f7e0c2" stroke-width="0.2">C1q-</text>
<text x="489.38" y="377.6" font-size="7.8" text-anchor="middle" fill="#f7e0c2" font-weight="normal" textLength="18" lengthAdjust="spacingAndGlyphs" stroke="#f7e0c2" stroke-width="0.2">Fc&#947;R-</text>
<line x1="357.1" y1="342.2" x2="357.1" y2="357.7" stroke="#111111" stroke-width="1.05" stroke-linecap="butt"/>
<line x1="351.9" y1="342.2" x2="362.3" y2="342.2" stroke="#111111" stroke-width="1.05" stroke-linecap="butt"/>
<line x1="351.9" y1="357.7" x2="362.3" y2="357.7" stroke="#111111" stroke-width="1.05" stroke-linecap="butt"/>
<circle cx="357.1" cy="339.2" r="1.8" fill="#0d0d0d"/>
<circle cx="357.1" cy="352.3" r="1.8" fill="#0d0d0d"/>
<circle cx="357.1" cy="354.7" r="1.8" fill="#0d0d0d"/>
<circle cx="350.4" cy="356.6" r="1.8" fill="#0d0d0d"/>
<circle cx="363.8" cy="356.6" r="1.8" fill="#0d0d0d"/>
<line x1="390.37" y1="326.1" x2="390.37" y2="346.5" stroke="#111111" stroke-width="1.05" stroke-linecap="butt"/>
<line x1="385.17" y1="326.1" x2="395.57" y2="326.1" stroke="#111111" stroke-width="1.05" stroke-linecap="butt"/>
<line x1="385.17" y1="346.5" x2="395.57" y2="346.5" stroke="#111111" stroke-width="1.05" stroke-linecap="butt"/>
<circle cx="386.8" cy="330.5" r="1.8" fill="#0d0d0d"/>
<circle cx="393.8" cy="330.1" r="1.8" fill="#0d0d0d"/>
<circle cx="390.2" cy="333.7" r="1.8" fill="#0d0d0d"/>
<circle cx="390.2" cy="351.6" r="1.8" fill="#0d0d0d"/>
<line x1="423.64" y1="284" x2="423.64" y2="366.9" stroke="#111111" stroke-width="1.05" stroke-linecap="butt"/>
<line x1="418.44" y1="284" x2="428.84" y2="284" stroke="#111111" stroke-width="1.05" stroke-linecap="butt"/>
<line x1="418.44" y1="366.9" x2="428.84" y2="366.9" stroke="#111111" stroke-width="1.05" stroke-linecap="butt"/>
<circle cx="423.6" cy="267.1" r="1.8" fill="#0d0d0d"/>
<circle cx="423.6" cy="277.2" r="1.8" fill="#0d0d0d"/>
<circle cx="420.3" cy="347.6" r="1.8" fill="#0d0d0d"/>
<circle cx="427.2" cy="347.6" r="1.8" fill="#0d0d0d"/>
<circle cx="420.3" cy="357.8" r="1.8" fill="#0d0d0d"/>
<circle cx="427.2" cy="356.3" r="1.8" fill="#0d0d0d"/>
<line x1="456.91" y1="295.3" x2="456.91" y2="358.4" stroke="#111111" stroke-width="1.05" stroke-linecap="butt"/>
<line x1="451.71" y1="295.3" x2="462.11" y2="295.3" stroke="#111111" stroke-width="1.05" stroke-linecap="butt"/>
<line x1="451.71" y1="358.4" x2="462.11" y2="358.4" stroke="#111111" stroke-width="1.05" stroke-linecap="butt"/>
<circle cx="456.5" cy="287.4" r="1.8" fill="#0d0d0d"/>
<circle cx="456.5" cy="317.5" r="1.8" fill="#0d0d0d"/>
<circle cx="453.3" cy="326.4" r="1.8" fill="#0d0d0d"/>
<circle cx="460.5" cy="327.5" r="1.8" fill="#0d0d0d"/>
<circle cx="456.5" cy="375.3" r="1.8" fill="#0d0d0d"/>
<line x1="490.18" y1="333" x2="490.18" y2="364.1" stroke="#111111" stroke-width="1.05" stroke-linecap="butt"/>
<line x1="484.98" y1="333" x2="495.38" y2="333" stroke="#111111" stroke-width="1.05" stroke-linecap="butt"/>
<line x1="484.98" y1="364.1" x2="495.38" y2="364.1" stroke="#111111" stroke-width="1.05" stroke-linecap="butt"/>
<circle cx="490.2" cy="327.7" r="1.8" fill="#0d0d0d"/>
<circle cx="486.6" cy="349.7" r="1.8" fill="#0d0d0d"/>
<circle cx="493.6" cy="351.8" r="1.8" fill="#0d0d0d"/>
<circle cx="490.2" cy="363.7" r="1.8" fill="#0d0d0d"/>
<text x="357.1" y="391" font-size="8" text-anchor="middle" fill="#222222" font-weight="normal" stroke="#222222" stroke-width="0.15">a-TNP</text>
<text x="357.1" y="401" font-size="8" text-anchor="middle" fill="#222222" font-weight="normal" stroke="#222222" stroke-width="0.15">WT</text>
<text x="390.37" y="391" font-size="8" text-anchor="middle" fill="#222222" font-weight="normal" stroke="#222222" stroke-width="0.15">34-1-2S</text>
<text x="390.37" y="401" font-size="8" text-anchor="middle" fill="#222222" font-weight="normal" stroke="#222222" stroke-width="0.15">hIgG1</text>
<text x="423.64" y="391" font-size="8" text-anchor="middle" fill="#222222" font-weight="normal" stroke="#222222" stroke-width="0.15">34-1-2S</text>
<text x="423.64" y="401" font-size="8" text-anchor="middle" fill="#222222" font-weight="normal" stroke="#222222" stroke-width="0.15">K322A</text>
<text x="456.91" y="391" font-size="8" text-anchor="middle" fill="#222222" font-weight="normal" stroke="#222222" stroke-width="0.15">34-1-2S</text>
<text x="456.91" y="401" font-size="8" text-anchor="middle" fill="#222222" font-weight="normal" stroke="#222222" stroke-width="0.15">&#916;G236</text>
<text x="490.18" y="391" font-size="8" text-anchor="middle" fill="#222222" font-weight="normal" stroke="#222222" stroke-width="0.15">34-1-2S</text>
<text x="490.18" y="401" font-size="8" text-anchor="middle" fill="#222222" font-weight="normal" stroke="#222222" stroke-width="0.15">PGLALA</text>
<text x="146.6" y="435.8" font-size="12.2" text-anchor="start" fill="#000" font-weight="bold" stroke="#000" stroke-width="0.7">F</text>
<line x1="198" y1="443" x2="198" y2="558.05" stroke="#2b2b2b" stroke-width="1.5" stroke-linecap="butt"/>
<line x1="195.2" y1="557.3" x2="198" y2="557.3" stroke="#2b2b2b" stroke-width="1.5" stroke-linecap="butt"/>
<text x="193.6" y="560.43" font-size="8.7" text-anchor="end" fill="#222222" font-weight="normal" stroke="#222222" stroke-width="0.15">0</text>
<line x1="195.2" y1="534.98" x2="198" y2="534.98" stroke="#2b2b2b" stroke-width="1.5" stroke-linecap="butt"/>
<text x="193.6" y="538.11" font-size="8.7" text-anchor="end" fill="#222222" font-weight="normal" stroke="#222222" stroke-width="0.15">10</text>
<line x1="195.2" y1="512.66" x2="198" y2="512.66" stroke="#2b2b2b" stroke-width="1.5" stroke-linecap="butt"/>
<text x="193.6" y="515.79" font-size="8.7" text-anchor="end" fill="#222222" font-weight="normal" stroke="#222222" stroke-width="0.15">20</text>
<line x1="195.2" y1="490.34" x2="198" y2="490.34" stroke="#2b2b2b" stroke-width="1.5" stroke-linecap="butt"/>
<text x="193.6" y="493.47" font-size="8.7" text-anchor="end" fill="#222222" font-weight="normal" stroke="#222222" stroke-width="0.15">30</text>
<line x1="195.2" y1="468.02" x2="198" y2="468.02" stroke="#2b2b2b" stroke-width="1.5" stroke-linecap="butt"/>
<text x="193.6" y="471.15" font-size="8.7" text-anchor="end" fill="#222222" font-weight="normal" stroke="#222222" stroke-width="0.15">40</text>
<line x1="195.2" y1="445.7" x2="198" y2="445.7" stroke="#2b2b2b" stroke-width="1.5" stroke-linecap="butt"/>
<text x="193.6" y="448.83" font-size="8.7" text-anchor="end" fill="#222222" font-weight="normal" stroke="#222222" stroke-width="0.15">50</text>
<g transform="translate(165.9,500.5) rotate(-90)"><text x="0" y="0" font-size="10.8" text-anchor="middle" fill="#222222" stroke="#222222" stroke-width="0.24" textLength="58.3" lengthAdjust="spacingAndGlyphs">Lung neutrophils</text></g>
<g transform="translate(177.2,500.5) rotate(-90)"><text x="0" y="0" font-size="10.8" text-anchor="middle" fill="#222222" stroke="#222222" stroke-width="0.24" textLength="94" lengthAdjust="spacingAndGlyphs">(% of total) BALB/c WT mice</text></g>
<line x1="197.25" y1="557.3" x2="373" y2="557.3" stroke="#2b2b2b" stroke-width="1.5" stroke-linecap="butt"/>
<line x1="220.6" y1="557.3" x2="220.6" y2="560.3" stroke="#2b2b2b" stroke-width="1.5" stroke-linecap="butt"/>
<line x1="253.25" y1="557.3" x2="253.25" y2="560.3" stroke="#2b2b2b" stroke-width="1.5" stroke-linecap="butt"/>
<line x1="285.9" y1="557.3" x2="285.9" y2="560.3" stroke="#2b2b2b" stroke-width="1.5" stroke-linecap="butt"/>
<line x1="318.55" y1="557.3" x2="318.55" y2="560.3" stroke="#2b2b2b" stroke-width="1.5" stroke-linecap="butt"/>
<line x1="351.2" y1="557.3" x2="351.2" y2="560.3" stroke="#2b2b2b" stroke-width="1.5" stroke-linecap="butt"/>
<rect x="209.85" y="537.9" width="21.5" height="19.4" fill="#505868"/>
<rect x="242.5" y="518.2" width="21.5" height="39.1" fill="#522662"/>
<rect x="275.15" y="546.7" width="21.5" height="10.6" fill="#e08d18"/>
<rect x="307.8" y="531.4" width="21.5" height="25.9" fill="#8c85ba"/>
<rect x="340.45" y="538.2" width="21.5" height="19.1" fill="#ac6b24"/>
<text x="285.9" y="555" font-size="8.3" text-anchor="middle" fill="#fcecc4" font-weight="normal" textLength="18" lengthAdjust="spacingAndGlyphs" stroke="#fcecc4" stroke-width="0.2">C1q-</text>
<text x="318.25" y="555.3" font-size="8.2" text-anchor="middle" fill="#efedf8" font-weight="normal" textLength="18.5" lengthAdjust="spacingAndGlyphs" stroke="#efedf8" stroke-width="0.2">Fc&#947;R-</text>
<text x="350.7" y="548.8" font-size="7.8" text-anchor="middle" fill="#f7e0c2" font-weight="normal" textLength="15.5" lengthAdjust="spacingAndGlyphs" stroke="#f7e0c2" stroke-width="0.2">C1q-</text>
<text x="350.9" y="556.4" font-size="7.8" text-anchor="middle" fill="#f7e0c2" font-weight="normal" textLength="18.5" lengthAdjust="spacingAndGlyphs" stroke="#f7e0c2" stroke-width="0.2">Fc&#947;R-</text>
<line x1="220.6" y1="535.2" x2="220.6" y2="540.6" stroke="#111111" stroke-width="1.05" stroke-linecap="butt"/>
<line x1="215.6" y1="535.2" x2="225.6" y2="535.2" stroke="#111111" stroke-width="1.05" stroke-linecap="butt"/>
<line x1="215.6" y1="540.6" x2="225.6" y2="540.6" stroke="#111111" stroke-width="1.05" stroke-linecap="butt"/>
<circle cx="220.5" cy="532.4" r="1.8" fill="#0d0d0d"/>
<circle cx="214.1" cy="534.8" r="1.8" fill="#0d0d0d"/>
<circle cx="226.9" cy="534.8" r="1.8" fill="#0d0d0d"/>
<circle cx="220.5" cy="538.8" r="1.8" fill="#0d0d0d"/>
<circle cx="213.8" cy="543.9" r="1.8" fill="#0d0d0d"/>
<circle cx="227.3" cy="541" r="1.8" fill="#0d0d0d"/>
<line x1="253.25" y1="509.6" x2="253.25" y2="525.1" stroke="#111111" stroke-width="1.05" stroke-linecap="butt"/>
<line x1="248.25" y1="509.6" x2="258.25" y2="509.6" stroke="#111111" stroke-width="1.05" stroke-linecap="butt"/>
<line x1="248.25" y1="525.1" x2="258.25" y2="525.1" stroke="#111111" stroke-width="1.05" stroke-linecap="butt"/>
<circle cx="249.8" cy="507.7" r="1.8" fill="#0d0d0d"/>
<circle cx="256.7" cy="507.2" r="1.8" fill="#0d0d0d"/>
<circle cx="246.7" cy="518.7" r="1.8" fill="#0d0d0d"/>
<circle cx="253.1" cy="521.8" r="1.8" fill="#0d0d0d"/>
<circle cx="259.5" cy="521.1" r="1.8" fill="#0d0d0d"/>
<circle cx="253.1" cy="528.4" r="1.8" fill="#0d0d0d"/>
<line x1="285.9" y1="543.8" x2="285.9" y2="549.6" stroke="#111111" stroke-width="1.05" stroke-linecap="butt"/>
<line x1="280.9" y1="543.8" x2="290.9" y2="543.8" stroke="#111111" stroke-width="1.05" stroke-linecap="butt"/>
<line x1="280.9" y1="549.6" x2="290.9" y2="549.6" stroke="#111111" stroke-width="1.05" stroke-linecap="butt"/>
<circle cx="285.4" cy="541" r="1.8" fill="#0d0d0d"/>
<circle cx="281.8" cy="546.1" r="1.8" fill="#0d0d0d"/>
<circle cx="290" cy="546.1" r="1.8" fill="#0d0d0d"/>
<circle cx="276.7" cy="548" r="1.8" fill="#0d0d0d"/>
<circle cx="295.1" cy="548.5" r="1.8" fill="#0d0d0d"/>
<line x1="318.55" y1="521.6" x2="318.55" y2="540.1" stroke="#111111" stroke-width="1.05" stroke-linecap="butt"/>
<line x1="313.55" y1="521.6" x2="323.55" y2="521.6" stroke="#111111" stroke-width="1.05" stroke-linecap="butt"/>
<line x1="313.55" y1="540.1" x2="323.55" y2="540.1" stroke="#111111" stroke-width="1.05" stroke-linecap="butt"/>
<circle cx="314.9" cy="520.9" r="1.8" fill="#0d0d0d"/>
<circle cx="321.9" cy="517.7" r="1.8" fill="#0d0d0d"/>
<circle cx="315.2" cy="535.3" r="1.8" fill="#0d0d0d"/>
<circle cx="321.6" cy="533.9" r="1.8" fill="#0d0d0d"/>
<circle cx="321.6" cy="537.9" r="1.8" fill="#0d0d0d"/>
<circle cx="315.2" cy="541.1" r="1.8" fill="#0d0d0d"/>
<line x1="351.2" y1="531" x2="351.2" y2="541" stroke="#111111" stroke-width="1.05" stroke-linecap="butt"/>
<line x1="346.2" y1="531" x2="356.2" y2="531" stroke="#111111" stroke-width="1.05" stroke-linecap="butt"/>
<line x1="346.2" y1="541" x2="356.2" y2="541" stroke="#111111" stroke-width="1.05" stroke-linecap="butt"/>
<circle cx="347.6" cy="530.3" r="1.8" fill="#0d0d0d"/>
<circle cx="354.5" cy="528.5" r="1.8" fill="#0d0d0d"/>
<circle cx="351.2" cy="536" r="1.8" fill="#0d0d0d"/>
<circle cx="357.7" cy="543.2" r="1.8" fill="#0d0d0d"/>
<text x="220.6" y="571.1" font-size="8" text-anchor="middle" fill="#222222" font-weight="normal" stroke="#222222" stroke-width="0.15">a-TNP</text>
<text x="220.6" y="581" font-size="8" text-anchor="middle" fill="#222222" font-weight="normal" stroke="#222222" stroke-width="0.15">WT</text>
<text x="253.25" y="571.1" font-size="8" text-anchor="middle" fill="#222222" font-weight="normal" stroke="#222222" stroke-width="0.15">34-1-2S</text>
<text x="253.25" y="581" font-size="8" text-anchor="middle" fill="#222222" font-weight="normal" stroke="#222222" stroke-width="0.15">hIgG1</text>
<text x="285.9" y="571.1" font-size="8" text-anchor="middle" fill="#222222" font-weight="normal" stroke="#222222" stroke-width="0.15">34-1-2S</text>
<text x="285.9" y="581" font-size="8" text-anchor="middle" fill="#222222" font-weight="normal" stroke="#222222" stroke-width="0.15">K322A</text>
<text x="318.55" y="571.1" font-size="8" text-anchor="middle" fill="#222222" font-weight="normal" stroke="#222222" stroke-width="0.15">34-1-2S</text>
<text x="318.55" y="581" font-size="8" text-anchor="middle" fill="#222222" font-weight="normal" stroke="#222222" stroke-width="0.15">&#916;G236</text>
<text x="351.2" y="571.1" font-size="8" text-anchor="middle" fill="#222222" font-weight="normal" stroke="#222222" stroke-width="0.15">34-1-2S</text>
<text x="351.2" y="581" font-size="8" text-anchor="middle" fill="#222222" font-weight="normal" stroke="#222222" stroke-width="0.15">PGLALA</text>
<path d="M220.3 498V491.5H250.9V498" fill="none" stroke="#767676" stroke-width="1.25"/>
<circle cx="231.95" cy="488" r="1.3" fill="#262626"/>
<circle cx="235.7" cy="488" r="1.3" fill="#262626"/>
<circle cx="239.45" cy="488" r="1.3" fill="#262626"/>
<path d="M255.2 498V491.5H283.7V498" fill="none" stroke="#767676" stroke-width="1.25"/>
<circle cx="263.57" cy="488" r="1.3" fill="#262626"/>
<circle cx="267.32" cy="488" r="1.3" fill="#262626"/>
<circle cx="271.07" cy="488" r="1.3" fill="#262626"/>
<circle cx="274.82" cy="488" r="1.3" fill="#262626"/>
<path d="M288 498V491.5H318.6V498" fill="none" stroke="#767676" stroke-width="1.25"/>
<circle cx="301.12" cy="488" r="1.3" fill="#262626"/>
<circle cx="304.88" cy="488" r="1.3" fill="#262626"/>
<path d="M253 477V471.5H318.7V477" fill="none" stroke="#767676" stroke-width="1.25"/>
<circle cx="285.8" cy="467" r="1.3" fill="#262626"/>
<path d="M253 456.3V450.5H351.3V456.3" fill="none" stroke="#767676" stroke-width="1.25"/>
<circle cx="298.25" cy="445.8" r="1.3" fill="#262626"/>
<circle cx="302" cy="445.8" r="1.3" fill="#262626"/>
<circle cx="305.75" cy="445.8" r="1.3" fill="#262626"/>
<rect x="0.5" y="0.5" width="519" height="589" fill="none" stroke="#444" stroke-width="1"/>
</svg>
</body></html>
